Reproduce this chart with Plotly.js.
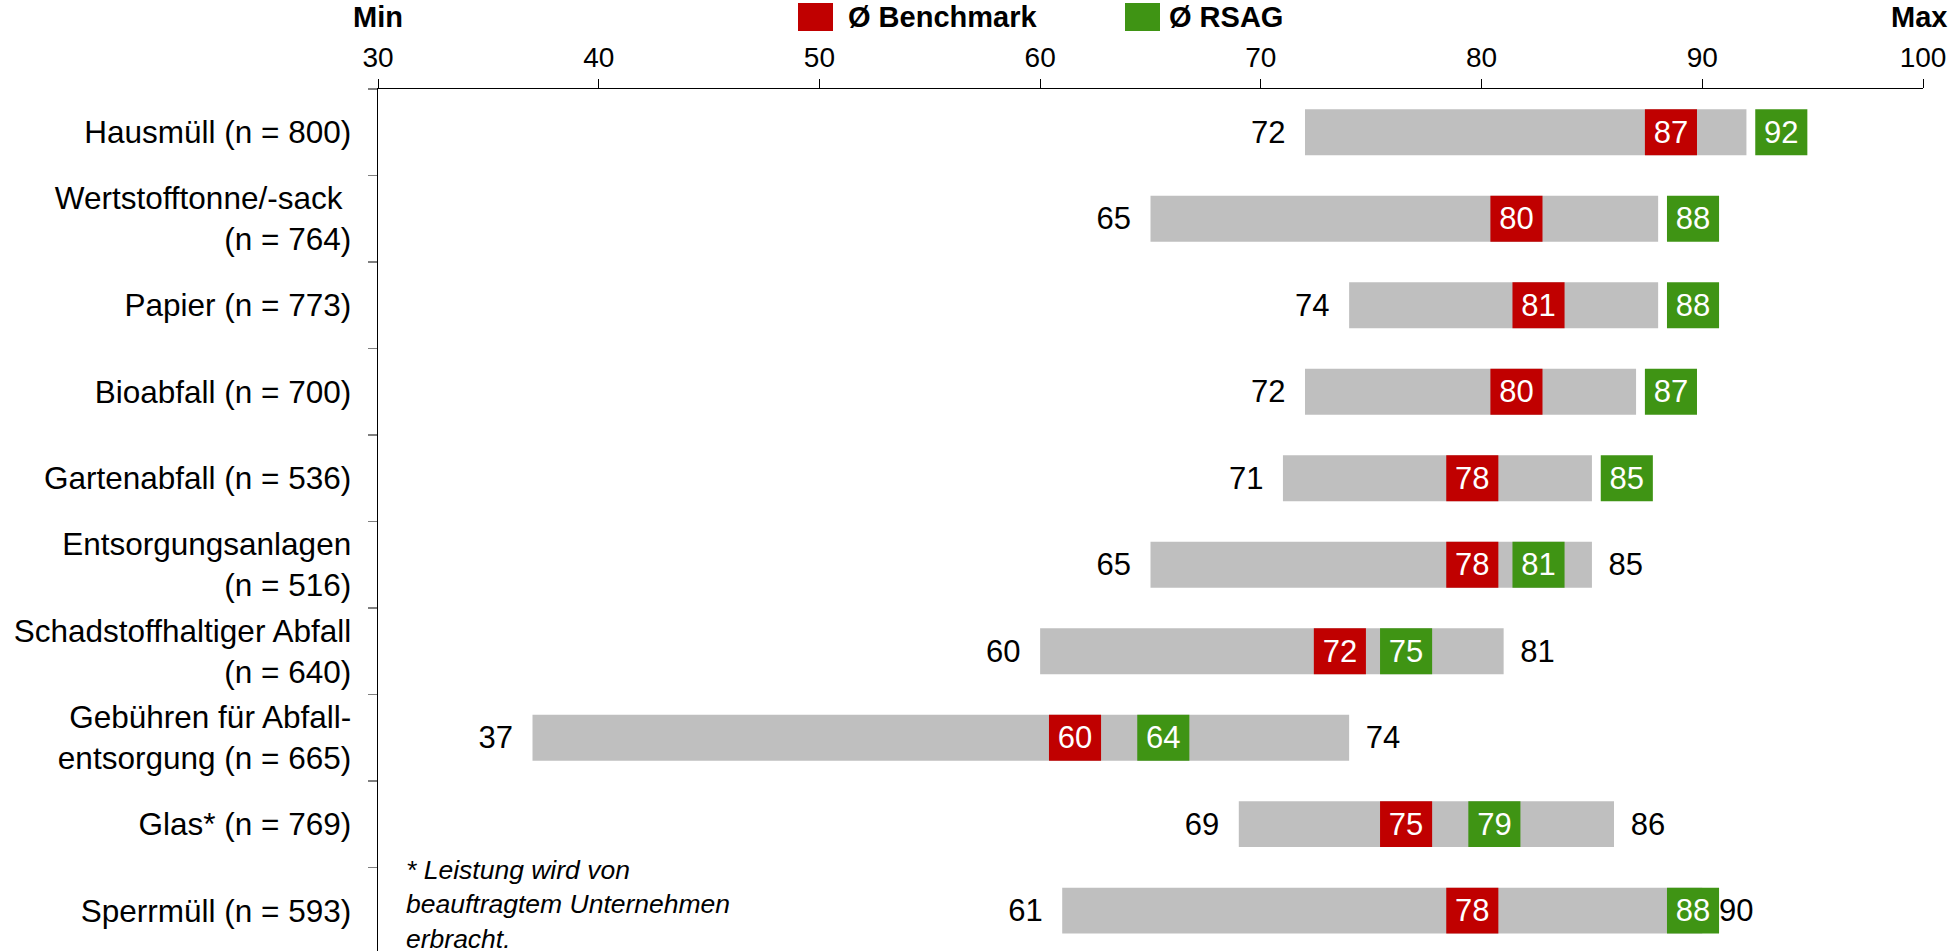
<!DOCTYPE html>
<html>
<head>
<meta charset="utf-8">
<script src="https://cdn.plot.ly/plotly-3.0.1.min.js"></script>
<style>
  html, body { margin: 0; padding: 0; background: #ffffff; }
  #chart { width: 1955px; height: 951px; }
</style>
</head>
<body>
<div id="chart"></div>
<script>
// Service areas with number of responses
const categories = [
  'Hausmüll (n = 800)',
  'Wertstofftonne/-sack\u00a0<br>(n = 764)',
  'Papier (n = 773)',
  'Bioabfall (n = 700)',
  'Gartenabfall (n = 536)',
  'Entsorgungsanlagen<br>(n = 516)',
  'Schadstoffhaltiger Abfall<br>(n = 640)',
  'Gebühren für Abfall-<br>entsorgung (n = 665)',
  'Glas* (n = 769)',
  'Sperrmüll (n = 593)'
];

// Lowest and highest score across all benchmark participants
const minValues = [72, 65, 74, 72, 71, 65, 60, 37, 69, 61];
const maxValues = [92, 88, 88, 87, 85, 85, 81, 74, 86, 90];

// Average score of all participants (Ø Benchmark) and of RSAG (Ø RSAG)
const benchmark = [87, 80, 81, 80, 78, 78, 72, 60, 75, 78];
const rsag      = [92, 88, 88, 87, 85, 81, 75, 64, 79, 88];

const tickValues = [30, 40, 50, 60, 70, 80, 90, 100];

// Styling
const FONT = 'Liberation Sans, Arial, Helvetica, sans-serif';
const GREY = '#bfbfbf';
const RED = '#c00000';
const GREEN = '#3f9414';
const BAR_W = 0.53;      // bar thickness in category units
const BOX_W = 2.36;      // width of the average markers in score points
const BOX_OFF = 0.4;     // marker start relative to its score
const MIN_GAP = 0.75;    // distance of min labels from the range bar
const MAX_GAP = 0.62;    // distance of max labels from the range bar
const VALUE_SIZE = 31;

const span = minValues.map((v, i) => maxValues[i] - v);
const fmt = a => a.map(v => String(v));

const common = {
  type: 'bar',
  orientation: 'h',
  y: categories,
  width: BAR_W,
  hoverinfo: 'skip',
  showlegend: false,
  cliponaxis: false,
  constraintext: 'none'
};

const traces = [
  // grey range bar from min to max
  Object.assign({}, common, {
    base: minValues,
    x: span,
    marker: { color: GREY, line: { width: 0 } }
  }),
  // max labels (right of the range bar; covered by markers where they overlap)
  Object.assign({}, common, {
    base: maxValues,
    x: maxValues.map(() => MAX_GAP),
    marker: { color: 'rgba(0,0,0,0)', line: { width: 0 } },
    text: fmt(maxValues),
    textposition: 'outside',
    textfont: { family: FONT, size: VALUE_SIZE, color: '#000000' }
  }),
  // min labels (left of the range bar)
  Object.assign({}, common, {
    base: minValues,
    x: minValues.map(() => -MIN_GAP),
    marker: { color: 'rgba(0,0,0,0)', line: { width: 0 } },
    text: fmt(minValues),
    textposition: 'outside',
    textfont: { family: FONT, size: VALUE_SIZE, color: '#000000' }
  }),
  // Ø Benchmark marker
  Object.assign({}, common, {
    name: 'Ø Benchmark',
    base: benchmark.map(v => v + BOX_OFF),
    x: benchmark.map(() => BOX_W),
    marker: { color: RED, line: { width: 0 } },
    text: fmt(benchmark),
    textposition: 'inside',
    insidetextanchor: 'middle',
    textangle: 0,
    textfont: { family: FONT, size: VALUE_SIZE, color: '#ffffff' }
  }),
  // Ø RSAG marker
  Object.assign({}, common, {
    name: 'Ø RSAG',
    base: rsag.map(v => v + BOX_OFF),
    x: rsag.map(() => BOX_W),
    marker: { color: GREEN, line: { width: 0 } },
    text: fmt(rsag),
    textposition: 'inside',
    insidetextanchor: 'middle',
    textangle: 0,
    textfont: { family: FONT, size: VALUE_SIZE, color: '#ffffff' }
  })
];

// plot area geometry (pixels) used to place the header items
const W = 1955, H = 951;
const M = { l: 378, r: 32, t: 89, b: 0 };
const px = x => (x - M.l) / (W - M.l - M.r);
const py = y => (H - y) / (H - M.t - M.b);

const legendItems = [
  { label: 'Ø Benchmark', color: RED, x0: 798, x1: 833, tx: 846 },
  { label: 'Ø RSAG', color: GREEN, x0: 1125, x1: 1160, tx: 1167 }
];

const shapes = legendItems.map(it => ({
  type: 'rect', xref: 'paper', yref: 'paper',
  x0: px(it.x0), x1: px(it.x1), y0: py(31), y1: py(3),
  fillcolor: it.color, line: { width: 0 }
}));

const annotations = legendItems.map(it => ({
  xref: 'paper', yref: 'paper', x: px(it.tx), y: py(17),
  xanchor: 'left', yanchor: 'middle', showarrow: false,
  text: '<b>' + it.label + '</b>',
  font: { family: FONT, size: 29, color: '#000000' }
})).concat([
  {
    xref: 'x', yref: 'paper', x: tickValues[0], y: py(17),
    xanchor: 'center', yanchor: 'middle', showarrow: false,
    text: '<b>Min</b>', font: { family: FONT, size: 29, color: '#000000' }
  },
  {
    xref: 'x', yref: 'paper', x: tickValues[tickValues.length - 1], y: py(17),
    xanchor: 'center', yanchor: 'middle', showarrow: false, xshift: -4,
    text: '<b>Max</b>', font: { family: FONT, size: 29, color: '#000000' }
  },
  {
    xref: 'paper', yref: 'paper', x: px(404), y: py(904),
    xanchor: 'left', yanchor: 'middle', align: 'left', showarrow: false,
    text: '<i>* Leistung wird von<br>beauftragtem Unternehmen<br>erbracht.</i>',
    font: { family: FONT, size: 26.5, color: '#000000' }
  }
]);

const layout = {
  width: W,
  height: H,
  margin: M,
  paper_bgcolor: '#ffffff',
  plot_bgcolor: '#ffffff',
  barmode: 'overlay',
  font: { family: FONT, size: 31, color: '#000000' },
  xaxis: {
    side: 'top',
    range: [tickValues[0], tickValues[tickValues.length - 1]],
    tickmode: 'array',
    tickvals: tickValues,
    ticktext: fmt(tickValues),
    ticks: 'outside',
    ticklen: 9,
    tickwidth: 1,
    tickcolor: '#000000',
    showline: true,
    linecolor: '#000000',
    linewidth: 1.5,
    showgrid: false,
    zeroline: false,
    tickfont: { family: FONT, size: 28, color: '#000000' },
    fixedrange: true
  },
  yaxis: {
    type: 'category',
    categoryorder: 'array',
    categoryarray: categories,
    range: [9.466, -0.5],
    ticks: 'outside',
    tickson: 'boundaries',
    ticklen: 9,
    tickwidth: 1.5,
    tickcolor: '#7f7f7f',
    ticklabelstandoff: 19,
    showline: true,
    linecolor: '#000000',
    linewidth: 1.5,
    showgrid: false,
    zeroline: false,
    tickfont: { family: FONT, size: 31.5, color: '#000000' },
    fixedrange: true
  },
  shapes: shapes,
  annotations: annotations
};

Plotly.newPlot('chart', traces, layout, { displayModeBar: false, staticPlot: true });
</script>
</body>
</html>
